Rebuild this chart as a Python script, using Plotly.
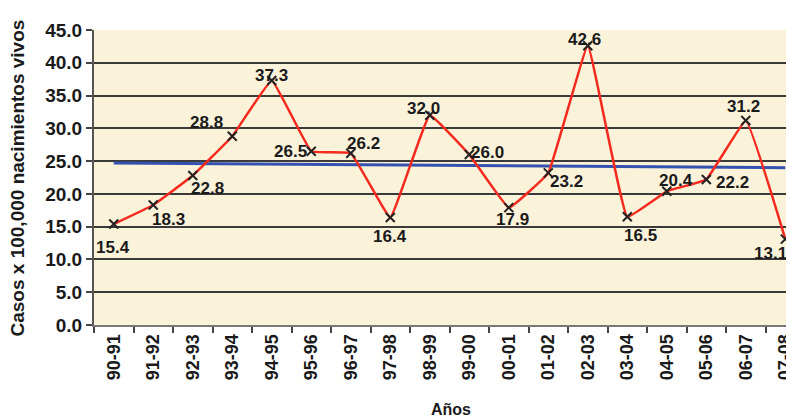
import plotly.graph_objects as go

periods = ["90-91", "91-92", "92-93", "93-94", "94-95", "95-96", "96-97", "97-98", "98-99",
           "99-00", "00-01", "01-02", "02-03", "03-04", "04-05", "05-06", "06-07", "07-08"]
rates = [15.4, 18.3, 22.8, 28.8, 37.3, 26.5, 26.2, 16.4, 32.0,
         26.0, 17.9, 23.2, 42.6, 16.5, 20.4, 22.2, 31.2, 13.1]
trend_periods = ["90-91", "07-08"]
trend_values = [24.7, 24.0]
y_ticks = [0, 5, 10, 15, 20, 25, 30, 35, 40, 45]

# label offsets (pixels) - styling only
label_dx = [-1, 15, 15, -26, 0, -21, 13, 0, -6, 18, 4, 18, -3, 13, 9, 26, -2, -15]
label_dy = [-23, -14, -13, 14, 5, 0, 10, -19, 7, 2, -12, -9, 6, -19, 11, -3, 14, -14]

FONT = "Liberation Sans"

fig = go.Figure()
fig.add_trace(go.Scatter(
    x=trend_periods, y=trend_values, mode="lines",
    line=dict(color="#3352B0", width=3), hoverinfo="skip", showlegend=False))
fig.add_trace(go.Scatter(
    x=periods, y=rates, mode="lines+markers",
    line=dict(color="#F52A1E", width=2.5, shape="spline", smoothing=0.25),
    marker=dict(symbol="x-thin", size=9, line=dict(color="#222222", width=2)),
    showlegend=False, cliponaxis=False))

for p, v, dx, dy in zip(periods, rates, label_dx, label_dy):
    fig.add_annotation(x=p, y=v, text=f"<b>{v:.1f}</b>", showarrow=False,
                       xshift=dx, yshift=dy,
                       font=dict(family=FONT, size=17, color="#1a1a1a"))

fig.add_annotation(text="<b>Casos x 100,000 nacimientos vivos</b>",
                   xref="paper", yref="paper", x=-0.1086, y=0.5,
                   xanchor="center", yanchor="middle", textangle=-90,
                   showarrow=False, font=dict(family=FONT, size=19, color="#1a1a1a"))
fig.add_annotation(text="<b>Años</b>",
                   xref="paper", yref="paper", x=0.51, y=-0.288,
                   xanchor="center", yanchor="middle",
                   showarrow=False, font=dict(family=FONT, size=16, color="#1a1a1a"))

fig.update_layout(
    width=786, height=411,
    margin=dict(l=86, r=0, t=22, b=94, autoexpand=False),
    paper_bgcolor="white",
    plot_bgcolor="#FBF2DA",
    font=dict(family=FONT, color="#1a1a1a"),
)
fig.update_xaxes(
    type="category", categoryorder="array", categoryarray=periods,
    range=[-0.5, 17.22], automargin=False,
    tickangle=-90, tickson="boundaries",
    ticks="outside", ticklen=6, tickcolor="#444", tickwidth=2,
    showline=True, linecolor="#777", linewidth=2,
    showgrid=False,
    tickfont=dict(family=FONT, size=18, color="#1a1a1a", weight="bold"),
)
fig.update_yaxes(
    range=[0, 45], tickvals=y_ticks, tickformat=".1f", automargin=False,
    ticks="outside", ticklen=6, tickcolor="#444", tickwidth=2,
    showline=True, linecolor="#555", linewidth=2,
    showgrid=True, gridcolor="#3a3a3a", gridwidth=2,
    zeroline=False,
    tickfont=dict(family=FONT, size=19, color="#1a1a1a", weight="bold"),
)

fig.write_html("out.html")
